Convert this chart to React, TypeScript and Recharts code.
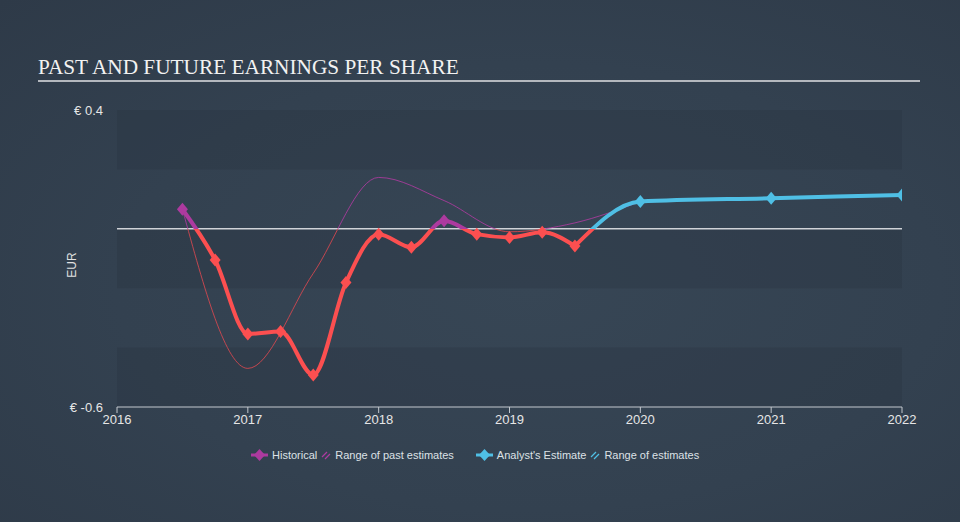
import React from "react";
import {
  ComposedChart,
  Line,
  XAxis,
  YAxis,
  ReferenceArea,
  ReferenceLine,
} from "recharts";

const histYears = [2016.5, 2016.75, 2017, 2017.25, 2017.5, 2017.75, 2018, 2018.25, 2018.5, 2018.75, 2019, 2019.25, 2019.5];
const histEps = [0.066, -0.105, -0.354, -0.346, -0.492, -0.181, -0.018, -0.062, 0.027, -0.018, -0.029, -0.012, -0.058];

const rangeYears = [2016.5, 2017, 2017.5, 2018, 2018.5, 2019, 2019.5, 2020];
const rangeEps = [0.066, -0.47, -0.15, 0.173, 0.095, -0.01, 0.02, 0.092];

const forecastYears = [2019.5, 2020, 2021, 2022];
const forecastEps = [-0.058, 0.092, 0.103, 0.114];

const yearTicks = [2016, 2017, 2018, 2019, 2020, 2021, 2022];
const epsTicks = [-0.6, 0.4];
const darkBands = [
  [0.2, 0.4],
  [-0.2, 0],
  [-0.6, -0.4],
];

const hist = histYears.map((year, i) => ({ year, eps: histEps[i] }));
const range = rangeYears.map((year, i) => ({ year, eps: rangeEps[i] }));
const forecast = forecastYears.map((year, i) => ({ year, eps: forecastEps[i] }));

const RED = "#fc4f50";
const PURPLE = "#ad3a9f";
const BLUE = "#4fbfe5";
const FONT = "'Liberation Sans', Arial, sans-serif";

// plot box in svg coords, used for the zero-split gradients
const PLOT_TOP = 110;
const PLOT_BOTTOM = 407;
const ZERO_OFFSET = 0.4;

const diamond = (pos: string, neg: string, skipFirst = false) => (props: any) => {
  const { cx, cy, index, payload } = props;
  if (skipFirst && index === 0) return <g key={`d${index}`} />;
  const fill = payload.eps > 0 ? pos : neg;
  return (
    <path
      key={`d${index}`}
      d={`M${cx},${cy - 6.5} L${cx + 5.5},${cy} L${cx},${cy + 6.5} L${cx - 5.5},${cy} Z`}
      fill={fill}
    />
  );
};

function Hatch({ color }: { color: string }) {
  return (
    <svg width={10} height={10} style={{ marginRight: 4 }}>
      <line x1={1} y1={7} x2={6} y2={2} stroke={color} strokeWidth={1.2} />
      <line x1={4} y1={9} x2={9} y2={4} stroke={color} strokeWidth={1.2} />
    </svg>
  );
}

function Marker({ color }: { color: string }) {
  return (
    <svg width={17} height={12} style={{ marginRight: 4 }}>
      <line x1={0} y1={6} x2={17} y2={6} stroke={color} strokeWidth={3} />
      <path d="M8.5,0 L14,6 L8.5,12 L3,6 Z" fill={color} />
    </svg>
  );
}

export default function App() {
  return (
    <div
      style={{
        position: "absolute",
        left: 0,
        top: 0,
        width: 960,
        height: 522,
        background: "radial-gradient(ellipse at 55% 55%, #374655 0%, #334150 55%, #2e3a48 100%)",
        fontFamily: FONT,
        overflow: "hidden",
      }}
    >
      <div
        style={{
          position: "absolute",
          left: 38,
          top: 55,
          fontFamily: "'Liberation Serif', 'Times New Roman', serif",
          fontSize: 21.3,
          color: "#f2f2f2",
          whiteSpace: "nowrap",
        }}
      >
        PAST AND FUTURE EARNINGS PER SHARE
      </div>
      <div
        style={{
          position: "absolute",
          left: 38,
          top: 80,
          width: 882,
          height: 2,
          background: "#b4b8be",
        }}
      />
      <div
        style={{
          position: "absolute",
          left: 72,
          top: 265,
          transform: "translate(-50%, -50%) rotate(-90deg)",
          fontSize: 12,
          color: "#e0e0e0",
        }}
      >
        EUR
      </div>

      <ComposedChart
        width={960}
        height={522}
        margin={{ top: 110, right: 58, bottom: 85, left: 0 }}
        style={{ position: "absolute", left: 0, top: 0 }}
      >
        <defs>
          <linearGradient id="histGrad" gradientUnits="userSpaceOnUse" x1={0} y1={PLOT_TOP} x2={0} y2={PLOT_BOTTOM}>
            <stop offset={ZERO_OFFSET} stopColor={PURPLE} />
            <stop offset={ZERO_OFFSET} stopColor={RED} />
          </linearGradient>
          <linearGradient id="fcGrad" gradientUnits="userSpaceOnUse" x1={0} y1={PLOT_TOP} x2={0} y2={PLOT_BOTTOM}>
            <stop offset={ZERO_OFFSET} stopColor={BLUE} />
            <stop offset={ZERO_OFFSET} stopColor={RED} />
          </linearGradient>
          <linearGradient id="rangeGrad" gradientUnits="userSpaceOnUse" x1={0} y1={PLOT_TOP} x2={0} y2={PLOT_BOTTOM}>
            <stop offset={ZERO_OFFSET} stopColor={PURPLE} />
            <stop offset={ZERO_OFFSET} stopColor="#d9474f" />
          </linearGradient>
        </defs>
        <XAxis
          type="number"
          dataKey="year"
          domain={[2016, 2022]}
          ticks={yearTicks}
          interval={0}
          allowDataOverflow
          axisLine={{ stroke: "#c3c8ce" }}
          tickLine={{ stroke: "#c3c8ce" }}
          tick={{ fill: "#e6e6e6", fontSize: 13 }}
          tickSize={6}
          tickMargin={2}
        />
        <YAxis
          type="number"
          domain={[-0.6, 0.4]}
          ticks={epsTicks}
          interval={0}
          allowDataOverflow
          width={117}
          axisLine={false}
          tickLine={false}
          tickSize={6}
          tickMargin={8}
          tick={{ fill: "#e6e6e6", fontSize: 13 }}
          tickFormatter={(v: number) => `€ ${v}`}
        />
        {darkBands.map(([a, b]) => (
          <ReferenceArea key={a} y1={a} y2={b} fill="#27323f" fillOpacity={0.3} stroke="none" ifOverflow="hidden" />
        ))}
        <ReferenceLine y={0} stroke="#d0d3d8" strokeWidth={1.5} />
        <Line
          data={range}
          dataKey="eps"
          type="monotone"
          stroke="url(#rangeGrad)"
          strokeWidth={1}
          strokeOpacity={0.85}
          dot={false}
          activeDot={false}
          isAnimationActive={false}
        />
        <Line
          data={hist}
          dataKey="eps"
          type="monotone"
          stroke="url(#histGrad)"
          strokeWidth={4}
          dot={diamond(PURPLE, RED)}
          activeDot={false}
          isAnimationActive={false}
        />
        <Line
          data={forecast}
          dataKey="eps"
          type="monotone"
          stroke="url(#fcGrad)"
          strokeWidth={4}
          dot={diamond(BLUE, RED, true)}
          activeDot={false}
          isAnimationActive={false}
        />
      </ComposedChart>

      <div
        style={{
          position: "absolute",
          left: 251,
          top: 449,
          display: "flex",
          alignItems: "center",
          fontSize: 11,
          color: "#dde1e6",
          whiteSpace: "nowrap",
        }}
      >
        <Marker color={PURPLE} />
        <span style={{ marginRight: 4 }}>Historical</span>
        <Hatch color={PURPLE} />
        <span style={{ marginRight: 22 }}>Range of past estimates</span>
        <Marker color={BLUE} />
        <span style={{ marginRight: 4 }}>Analyst's Estimate</span>
        <Hatch color={BLUE} />
        <span>Range of estimates</span>
      </div>
    </div>
  );
}
